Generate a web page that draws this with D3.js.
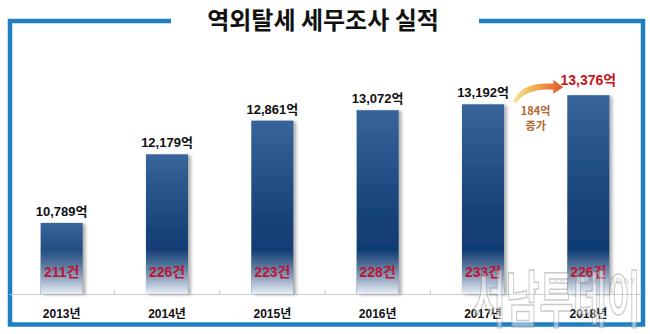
<!DOCTYPE html>
<html>
<head>
<meta charset="utf-8">
<script src="https://cdn.jsdelivr.net/npm/d3@7"></script>
<style>
  html, body { margin: 0; padding: 0; background: #fff; }
  svg { display: block; }
  text { font-family: "Liberation Sans", Arial, "Noto Sans CJK KR", sans-serif; }
</style>
</head>
<body>
<svg id="chart" width="650" height="334"></svg>
<script>
// 역외탈세 세무조사 실적 (연도별 추징세액, 조사 건수)
const title = "역외탈세 세무조사 실적";
const years = ["2013년", "2014년", "2015년", "2016년", "2017년", "2018년"];
const amounts = [10789, 12179, 12861, 13072, 13192, 13376];   // 억 원
const cases = [211, 226, 223, 228, 233, 226];                  // 건
const increaseLabel = ["184억", "증가"];

const W = 650, H = 334;
const svg = d3.select("#chart");
const defs = svg.append("defs");

const x = d3.scaleBand().domain(years).range([9, 641]).paddingInner(0.6).paddingOuter(0.3);
const y = d3.scaleLinear().domain([9350, 13400]).range([294, 94]);
const base = y.range()[0];
const fmt = d3.format(",");

// bar body: mid blue at the top darkening to navy
const g1 = defs.append("linearGradient").attr("id", "barBody")
  .attr("x1", 0).attr("y1", 0).attr("x2", 0).attr("y2", 1);
g1.append("stop").attr("offset", "0%").attr("stop-color", "#36659b");
g1.append("stop").attr("offset", "55%").attr("stop-color", "#18437a");
g1.append("stop").attr("offset", "100%").attr("stop-color", "#08326a");

// pale wash along the bottom of every bar
const g2 = defs.append("linearGradient").attr("id", "barFade")
  .attr("gradientUnits", "userSpaceOnUse")
  .attr("x1", 0).attr("y1", 250).attr("x2", 0).attr("y2", base);
g2.append("stop").attr("offset", "0%").attr("stop-color", "#f2f6fb").attr("stop-opacity", 0);
g2.append("stop").attr("offset", "45%").attr("stop-color", "#e4ecf6").attr("stop-opacity", 0.42);
g2.append("stop").attr("offset", "100%").attr("stop-color", "#f4f7fc").attr("stop-opacity", 0.96);

const shadow = defs.append("filter").attr("id", "barShadow")
  .attr("x", "-20%").attr("y", "-5%").attr("width", "150%").attr("height", "110%");
shadow.append("feDropShadow").attr("dx", 3).attr("dy", 1).attr("stdDeviation", 1.6)
  .attr("flood-color", "#7a7a7a").attr("flood-opacity", 0.55);

// frame with the title set into the top edge
svg.append("path")
  .attr("d", "M171,21 H10 V324.5 H643 V21 H479")
  .attr("fill", "none").attr("stroke", "#1f7fc3").attr("stroke-width", 4.5);

svg.append("text")
  .attr("x", 323).attr("y", 29)
  .attr("text-anchor", "middle")
  .style("font-family", "'Noto Sans CJK KR', sans-serif")
  .style("font-size", "24px").style("font-weight", 700)
  .attr("fill", "#111")
  .text(title);

// axis
const axis = svg.append("g").attr("transform", `translate(0,${base})`)
  .call(d3.axisBottom(x).tickSize(0).tickPadding(15));
axis.select(".domain").attr("stroke", "#cdcdcd").attr("stroke-width", 1);
axis.selectAll("text")
  .style("font-size", "12px").style("font-weight", 700).attr("fill", "#111");

// category separators
svg.append("g").selectAll("line")
  .data(years.slice(1))
  .join("line")
  .attr("x1", d => x(d) - x.step() * x.paddingInner() / 2)
  .attr("x2", d => x(d) - x.step() * x.paddingInner() / 2)
  .attr("y1", base - 4).attr("y2", base)
  .attr("stroke", "#c4c4c4");

// bars
const bars = svg.append("g").selectAll("g")
  .data(years.map((yr, i) => ({ yr, v: amounts[i], n: cases[i], i })))
  .join("g");

bars.append("rect")
  .attr("x", d => x(d.yr)).attr("width", x.bandwidth())
  .attr("y", d => y(d.v)).attr("height", d => base - y(d.v))
  .attr("fill", "url(#barBody)")
  .attr("filter", "url(#barShadow)");

bars.append("rect")
  .attr("x", d => x(d.yr)).attr("width", x.bandwidth())
  .attr("y", d => y(d.v)).attr("height", d => base - y(d.v))
  .attr("fill", "url(#barFade)");

// amount labels
bars.append("text")
  .attr("x", d => x(d.yr) + x.bandwidth() / 2)
  .attr("y", d => y(d.v) - (d.i === years.length - 1 ? 10 : 7))
  .attr("text-anchor", "middle")
  .style("font-size", d => d.i === years.length - 1 ? "14px" : "13px")
  .style("font-weight", 700)
  .attr("fill", d => d.i === years.length - 1 ? "#c8121b" : "#111")
  .text(d => fmt(d.v) + "억");

// case counts inside bars
bars.append("text")
  .attr("x", d => x(d.yr) + x.bandwidth() / 2)
  .attr("y", 277)
  .attr("text-anchor", "middle")
  .style("font-size", "14px").style("font-weight", 700)
  .attr("fill", "#bd1630")
  .text(d => d.n + "건");

// growth arrow between the last two bars
const xa = x(years[4]) + x.bandwidth() + 10;
const xb = x(years[5]) - 14;
const ya = y(amounts[4]) - 3;
const yb = y(amounts[5]) - 8;
const ag = defs.append("linearGradient").attr("id", "arrowGrad")
  .attr("gradientUnits", "userSpaceOnUse")
  .attr("x1", xa).attr("y1", 0).attr("x2", xb + 10).attr("y2", 0);
ag.append("stop").attr("offset", "0%").attr("stop-color", "#f3e69a");
ag.append("stop").attr("offset", "40%").attr("stop-color", "#f0b050");
ag.append("stop").attr("offset", "100%").attr("stop-color", "#e2532a");

const arrowPath = d3.path();
arrowPath.moveTo(xa - 1, ya);
arrowPath.quadraticCurveTo(xa + 8, yb - 6, xb, yb - 3.5);
arrowPath.lineTo(xb, yb - 7.5);
arrowPath.lineTo(xb + 10, yb);
arrowPath.lineTo(xb, yb + 6.5);
arrowPath.lineTo(xb, yb + 2.5);
arrowPath.quadraticCurveTo(xa + 12, yb + 1, xa + 2, ya + 2);
arrowPath.closePath();
svg.append("path").attr("d", arrowPath.toString()).attr("fill", "url(#arrowGrad)");

svg.append("g").selectAll("text")
  .data(increaseLabel)
  .join("text")
  .attr("x", (xa + xb) / 2 + 2)
  .attr("y", (d, i) => 115 + i * 15)
  .attr("text-anchor", "middle")
  .style("font-family", "'Noto Sans CJK KR', sans-serif")
  .style("font-size", "11px").style("font-weight", 700)
  .attr("fill", "#b5652e")
  .text(d => d);

// publisher mark
const mark = svg.append("g").attr("opacity", 0.45);
mark.append("text")
  .attr("transform", "translate(472,322) scale(0.78,1.3)")
  .style("font-family", "'Noto Sans CJK KR', sans-serif")
  .style("font-size", "47px").style("font-weight", 700)
  .attr("fill", "#ffffff").attr("stroke", "#8c8c8c").attr("stroke-width", 1.2)
  .text("서남투데이");
mark.append("text")
  .attr("x", 553).attr("y", 284)
  .style("font-size", "9px").style("letter-spacing", "1px")
  .attr("fill", "#9a9a9a")
  .text("SEONAM TODAY");
</script>
</body>
</html>
